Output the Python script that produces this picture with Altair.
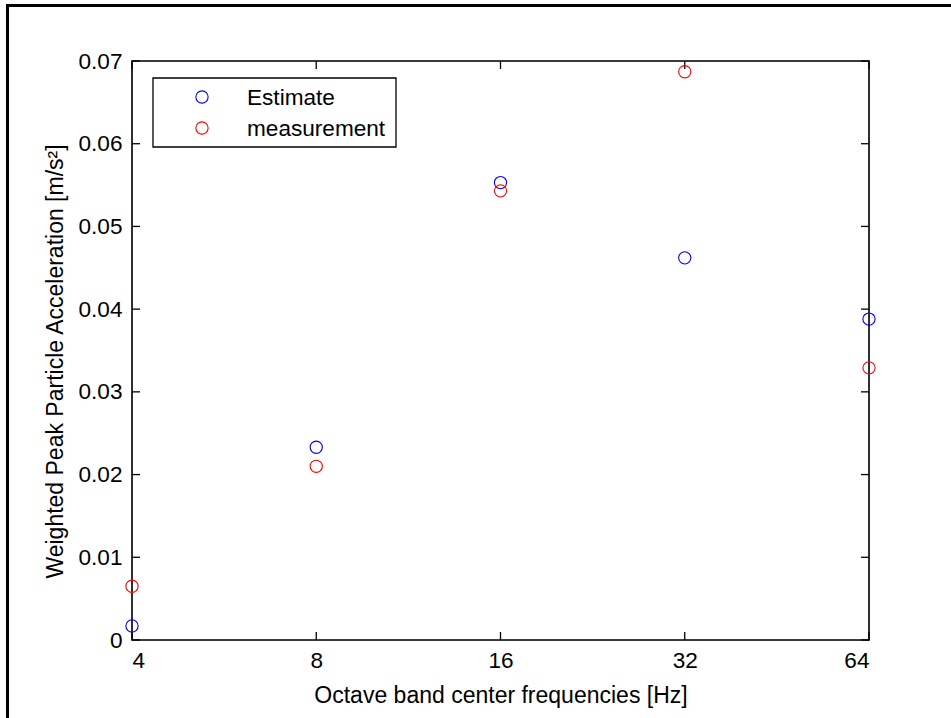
import altair as alt
import pandas as pd

# ---- data ----
freqs = [4, 8, 16, 32, 64]
estimate = [0.0017, 0.0233, 0.0553, 0.0462, 0.0388]
measurement = [0.0065, 0.0210, 0.0543, 0.0687, 0.0329]
series_names = ["Estimate", "measurement"]
series_colors = ["#0000ff", "#ff0000"]
y_ticks = [0.0, 0.01, 0.02, 0.03, 0.04, 0.05, 0.06, 0.07]
x_title = "Octave band center frequencies [Hz]"
y_title = "Weighted Peak Particle Acceleration [m/s²]"

W, H = 737, 579
FONT = "Liberation Sans"
TICK = 8

rows = []
for name, vals in zip(series_names, [estimate, measurement]):
    for f, v in zip(freqs, vals):
        rows.append({"freq": f, "value": v, "series": name})
main_df = pd.DataFrame(rows)

xs = alt.Scale(type="log", base=2, domain=[4, 64], nice=False, zero=False)
ys = alt.Scale(domain=[0, 0.07], nice=False, zero=False)

x_axis = alt.Axis(
    values=freqs, format="d", grid=False, ticks=False, tickSize=0, domain=False,
    labelFontSize=22.6, labelBaseline="alphabetic", labelPadding=27,
    labelColor="black", labelFont=FONT,
    title=x_title, titleFontSize=23, titleFontWeight="normal", titleFont=FONT,
    titleColor="black", titleBaseline="alphabetic", titleY=62,
)
y_axis = alt.Axis(
    values=y_ticks, grid=False, ticks=False, tickSize=0, domain=False,
    labelExpr="datum.value == 0 ? '0' : format(datum.value, '.2f')",
    labelFontSize=22.6, labelPadding=10, labelColor="black", labelFont=FONT,
    labelBaseline="middle",
    title=y_title, titleFontSize=23, titleFontWeight="normal", titleFont=FONT,
    titleColor="black", titleBaseline="alphabetic", titleAlign="center",
    titleAngle=270, titleX=-70, titleY=300,
)

x_enc = alt.X("freq:Q", scale=xs, axis=x_axis)
y_enc = alt.Y("value:Q", scale=ys, axis=y_axis)

points = alt.Chart(main_df).mark_point(
    shape="circle", filled=False, size=150, strokeWidth=1.1, opacity=1
).encode(
    x=x_enc,
    y=y_enc,
    color=alt.Color("series:N", scale=alt.Scale(domain=series_names, range=series_colors), legend=None),
    order=alt.Order("series:N"),
)

xt_df = pd.DataFrame({"freq": freqs})
yt_df = pd.DataFrame({"value": y_ticks})
tick_bottom = alt.Chart(xt_df).mark_rule(color="black", strokeWidth=1.3).encode(
    x=x_enc, y=alt.value(H), y2=alt.value(H - TICK))
tick_top = alt.Chart(xt_df).mark_rule(color="black", strokeWidth=1.3).encode(
    x=x_enc, y=alt.value(0), y2=alt.value(TICK))
tick_left = alt.Chart(yt_df).mark_rule(color="black", strokeWidth=1.3).encode(
    y=y_enc, x=alt.value(0), x2=alt.value(TICK))
tick_right = alt.Chart(yt_df).mark_rule(color="black", strokeWidth=1.3).encode(
    y=y_enc, x=alt.value(W), x2=alt.value(W - TICK))

# plot frame
one = pd.DataFrame({"k": [0]})
frame = alt.Chart(one).mark_rect(fill=None, stroke="black", strokeWidth=1.6).encode(
    x=alt.value(0), x2=alt.value(W), y=alt.value(0), y2=alt.value(H))

# legend (manual box)
leg_box = alt.Chart(one).mark_rect(fill="white", stroke="black", strokeWidth=1.3).encode(
    x=alt.value(21), x2=alt.value(264), y=alt.value(17), y2=alt.value(86))
leg_layers = [leg_box]
for i, (name, col) in enumerate(zip(series_names, series_colors)):
    d = pd.DataFrame({"name": [name]})
    leg_layers.append(
        alt.Chart(d).mark_point(shape="circle", filled=False, size=150, strokeWidth=1.1,
                                color=col, opacity=1).encode(
            x=alt.value(70), y=alt.value(36 + 31 * i)))
    leg_layers.append(
        alt.Chart(d).mark_text(align="left", baseline="alphabetic", fontSize=22.6,
                               font=FONT, color="black").encode(
            x=alt.value(115), y=alt.value(44 + 31 * i), text=alt.Text("name:N")))

# outer figure border
border_left = alt.Chart(one).mark_rule(color="black", strokeWidth=3).encode(
    x=alt.value(-124.5), y=alt.value(-57), y2=alt.value(660))
border_top = alt.Chart(one).mark_rule(color="black", strokeWidth=3).encode(
    x=alt.value(-126), x2=alt.value(822), y=alt.value(-55.5))

chart = alt.layer(
    tick_bottom, tick_top, tick_left, tick_right, frame, points, *leg_layers,
    border_left, border_top,
).properties(
    width=W, height=H,
    autosize=alt.AutoSizeParams(type="none"),
    padding={"left": 132, "top": 61, "right": 82, "bottom": 78},
    background="white",
).configure_view(
    stroke=None,
).configure(font=FONT)

chart.save("out.html", embed_options={"renderer": "svg", "actions": False})
